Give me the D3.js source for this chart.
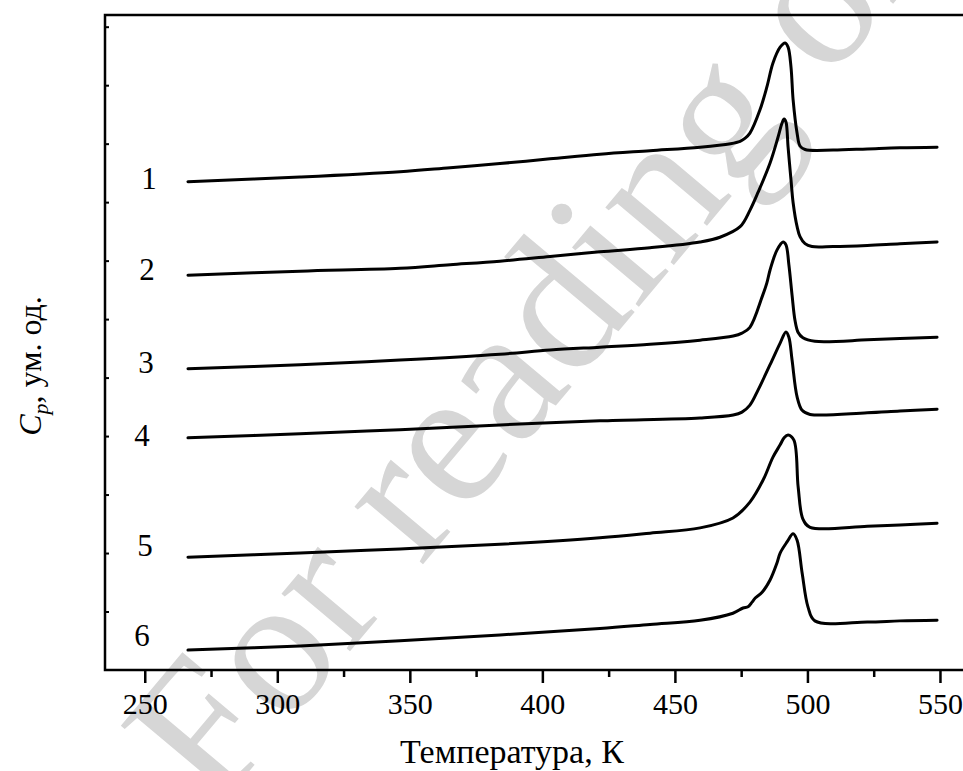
<!DOCTYPE html>
<html>
<head>
<meta charset="utf-8">
<script src="https://cdn.jsdelivr.net/npm/d3@7"></script>
<style>
  body { margin: 0; background: #fff; }
  svg { display: block; font-family: "Liberation Serif", "Times New Roman", serif; }
</style>
</head>
<body>
<svg id="chart" width="963" height="771"></svg>
<script>
// Cp curves, [T (K), Cp (arb. units)]
const curve1 = [[266.3,8.35],[308.6,8.43],[346.3,8.52],[365.2,8.59],[384.0,8.66],[402.9,8.74],[421.7,8.82],[440.6,8.88],[459.5,8.94],[471.0,9.00],
  [474.6,9.04],[476.4,9.09],[478.3,9.18],[482.1,9.58],[484.7,9.97],[487.0,10.38],[489.7,10.65],[491.6,10.72],[492.7,10.65],[493.8,10.31],[494.6,9.75],[496.1,9.18],
  [497.2,8.96],[499.1,8.90],[509.7,8.89],[522.6,8.91],[534.9,8.93],[548.9,8.94]];
const curve2 = [[266.3,6.75],[308.6,6.82],[346.3,6.87],[365.2,6.93],[384.0,6.99],[402.9,7.07],[421.7,7.15],[440.6,7.22],[459.5,7.32],[467.0,7.40],
  [474.6,7.58],[478.3,7.86],[481.4,8.17],[485.9,8.67],[488.9,9.11],[490.4,9.35],[491.2,9.42],[491.9,9.37],[492.7,8.94],[493.8,8.38],
  [494.6,7.99],[496.1,7.58],[497.2,7.41],[499.1,7.29],[501.7,7.24],[509.7,7.24],[522.6,7.26],[534.9,7.29],[548.9,7.32]];
const curve3 = [[266.3,5.15],[308.6,5.22],[346.3,5.30],[384.0,5.40],[402.9,5.47],[421.7,5.52],[440.6,5.57],[459.5,5.64],[472.0,5.71],[475.3,5.76],
  [478.3,5.86],[482.9,6.38],[484.7,6.62],[485.9,6.84],[488.5,7.18],[490.8,7.32],[491.9,7.27],[493.0,6.93],[494.2,6.41],[495.3,5.98],
  [496.5,5.77],[498.3,5.68],[502.8,5.62],[522.6,5.645],[534.9,5.67],[548.9,5.69]];
const curve4 = [[266.3,3.97],[308.6,4.04],[346.3,4.11],[384.0,4.19],[421.7,4.26],[459.5,4.31],[472.0,4.36],[475.3,4.41],
  [478.3,4.53],[481.4,4.79],[485.9,5.22],[489.7,5.59],[491.9,5.78],[493.0,5.69],[494.2,5.30],[496.1,4.67],
  [498.0,4.44],[501.0,4.37],[522.6,4.40],[534.9,4.43],[548.9,4.46]];
const curve5 = [[266.3,1.93],[308.6,2.00],[346.3,2.07],[384.0,2.15],[421.7,2.26],[440.6,2.34],[459.5,2.43],[471.9,2.60],
  [478.3,2.87],[483.3,3.25],[487.0,3.64],[489.7,3.85],[491.2,3.97],[492.7,4.02],[494.9,3.93],[496.5,3.13],
  [498.3,2.58],[501.0,2.44],[522.6,2.46],[534.9,2.48],[548.9,2.51]];
const curve6 = [[266.3,0.34],[308.6,0.41],[346.3,0.50],[384.0,0.60],[421.7,0.71],[440.6,0.78],[459.5,0.85],[471.9,0.97],
  [475.7,1.06],[477.6,1.08],[479.1,1.16],[480.3,1.23],[482.9,1.33],[485.9,1.54],[488.5,1.83],[489.7,2.00],[492.3,2.19],
  [494.6,2.33],[496.1,2.22],[498.0,1.66],[500.2,1.08],[502.8,0.84],[522.6,0.82],[534.9,0.84],[548.9,0.85]];

const curves = [curve1, curve2, curve3, curve4, curve5, curve6];
const curveNames = ["1", "2", "3", "4", "5", "6"];

const xMajorTicks = [250, 300, 350, 400, 450, 500, 550];
const xMinorTicks = [275, 325, 375, 425, 475, 525];
const yTicks = [1, 2, 3, 4, 5, 6, 7, 8, 9, 10, 11];

const xTitle = "Температура, К";
const watermark = "For reading only";

// layout
const margin = { left: 105, top: 15, bottom: 670 };
// label nudges relative to curve start (px)
const labelShift = [[-39, 7], [-41, 5], [-42, 4], [-46, 8], [-43, -1], [-46, -4]];

const svg = d3.select("#chart");

const x = d3.scaleLinear().domain([235, 565]).range([margin.left, margin.left + 330 * 2.6507]);
const y = d3.scaleLinear().domain([0, 11.2]).range([margin.bottom, margin.top]);

// watermark behind everything
svg.append("text")
  .attr("transform", "translate(215,812) rotate(-50)")
  .attr("font-size", 195)
  .attr("fill", "#d6d6d6")
  .text(watermark);

// frame (right side falls outside the window)
svg.append("path")
  .attr("d", `M${x(565)},${y(11.2)}H${x(235)}V${y(0)}H${x(565)}`)
  .attr("fill", "none")
  .attr("stroke", "#000")
  .attr("stroke-width", 2.5);

// x axis, major + minor ticks
const gx = svg.append("g").attr("transform", `translate(0,${y(0)})`);
gx.call(d3.axisBottom(x).tickValues(xMajorTicks).tickSize(13).tickSizeOuter(0).tickPadding(10));
gx.select(".domain").remove();
gx.selectAll("line").attr("stroke-width", 2.5);
gx.selectAll("text").attr("font-size", 30).attr("fill", "#000")
  .attr("font-family", "Liberation Serif, Times New Roman, serif");

const gxm = svg.append("g").attr("transform", `translate(0,${y(0)})`);
gxm.call(d3.axisBottom(x).tickValues(xMinorTicks).tickSize(7).tickFormat(""));
gxm.select(".domain").remove();
gxm.selectAll("line").attr("stroke-width", 2.5);

// y axis, inward ticks, no labels
const gy = svg.append("g").attr("transform", `translate(${x(235)},0)`);
gy.call(d3.axisRight(y).tickValues(yTicks).tickSize(4).tickFormat(""));
gy.select(".domain").remove();
gy.selectAll("line").attr("stroke-width", 2);

// curves
const line = d3.line()
  .x(d => x(d[0]))
  .y(d => y(d[1]))
  .curve(d3.curveCatmullRom.alpha(0.5));

svg.append("g")
  .selectAll("path")
  .data(curves)
  .join("path")
  .attr("d", line)
  .attr("fill", "none")
  .attr("stroke", "#000")
  .attr("stroke-width", 3)
  .attr("stroke-linejoin", "round")
  .attr("stroke-linecap", "round");

// curve numbers
svg.append("g")
  .selectAll("text")
  .data(curves)
  .join("text")
  .attr("x", (d, i) => x(d[0][0]) + labelShift[i][0])
  .attr("y", (d, i) => y(d[0][1]) + labelShift[i][1])
  .attr("text-anchor", "middle")
  .attr("font-size", 31)
  .text((d, i) => curveNames[i]);

// axis titles
svg.append("text")
  .attr("x", 512)
  .attr("y", 763)
  .attr("text-anchor", "middle")
  .attr("font-size", 34)
  .text(xTitle);

const yt = svg.append("text")
  .attr("transform", "translate(41,366) rotate(-90)")
  .attr("text-anchor", "middle")
  .attr("font-size", 32);
yt.append("tspan").attr("font-style", "italic").text("C");
yt.append("tspan").attr("font-style", "italic").attr("font-size", 22).attr("dy", 7).text("p");
yt.append("tspan").attr("dy", -7).text(", ум. од.");
</script>
</body>
</html>
